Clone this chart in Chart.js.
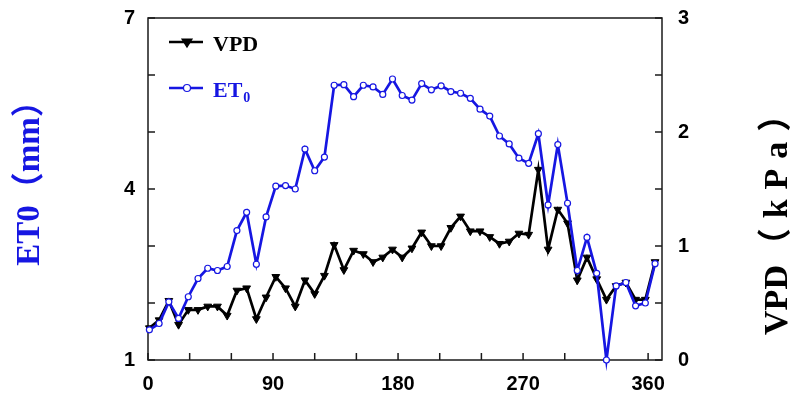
<!DOCTYPE html>
<html>
<head>
<meta charset="utf-8">
<script src="https://cdn.jsdelivr.net/npm/chart.js@4.4.0/dist/chart.umd.min.js"></script>
<style>
  body { margin: 0; background: #fff; }
</style>
</head>
<body>
<canvas id="chart" width="791" height="401"></canvas>
<script>
// day of year for each weekly value
const days = [1, 8, 15, 22, 29, 36, 43, 50, 57, 64, 71, 78, 85, 92, 99, 106, 113, 120,
  127, 134, 141, 148, 155, 162, 169, 176, 183, 190, 197, 204, 211, 218, 225, 232, 239,
  246, 253, 260, 267, 274, 281, 288, 295, 302, 309, 316, 323, 330, 337, 344, 351, 358, 365];

// ET0 (mm), left axis
const et0 = [1.53, 1.64, 2.02, 1.73, 2.11, 2.43, 2.61, 2.57, 2.64, 3.27, 3.59, 2.68, 3.51,
  4.05, 4.06, 4.00, 4.70, 4.32, 4.56, 5.82, 5.83, 5.62, 5.82, 5.79, 5.66, 5.93, 5.64, 5.56,
  5.85, 5.74, 5.81, 5.71, 5.68, 5.59, 5.40, 5.28, 4.93, 4.79, 4.54, 4.45, 4.97, 3.72, 4.78,
  3.75, 2.57, 3.15, 2.52, 1.00, 2.30, 2.36, 1.95, 2.00, 2.69];

// VPD (kPa), right axis
const vpd = [0.28, 0.35, 0.52, 0.31, 0.44, 0.44, 0.47, 0.47, 0.39, 0.61, 0.63, 0.36, 0.55,
  0.73, 0.63, 0.47, 0.70, 0.58, 0.74, 1.01, 0.79, 0.96, 0.93, 0.86, 0.90, 0.97, 0.90, 0.98,
  1.12, 1.00, 1.00, 1.16, 1.26, 1.13, 1.13, 1.08, 1.02, 1.04, 1.11, 1.10, 1.67, 0.97, 1.32,
  1.20, 0.70, 0.90, 0.71, 0.53, 0.65, 0.68, 0.53, 0.53, 0.86];

const xLabels = [0, 90, 180, 270, 360];
const leftLabels = [1, 4, 7];
const rightLabels = [0, 1, 2, 3];

const blue = 'rgb(22, 22, 226)';
const tickFont = { family: '"Liberation Sans", Arial, sans-serif', size: 20, weight: 'bold' };
const serif = '"Liberation Serif", "Times New Roman", "Noto Sans CJK SC", serif';

function toPoints(values) {
    return days.map((d, i) => ({ x: d, y: values[i] }));
}

function markerPath(ctx, style, x, y, r) {
    ctx.beginPath();
    if (style === 'circle') {
        ctx.arc(x, y, r, 0, Math.PI * 2);
    } else {
        // downward triangle
        ctx.moveTo(x - r, y - r * 0.6);
        ctx.lineTo(x + r, y - r * 0.6);
        ctx.lineTo(x, y + r);
        ctx.closePath();
    }
}

// text drawn char by char with extra spacing, centred on 0,0 (already rotated)
function spacedText(ctx, text, spacing) {
    const chars = Array.from(text);
    const widths = chars.map(c => ctx.measureText(c).width);
    const total = widths.reduce((s, w) => s + w, 0) + spacing * (chars.length - 1);
    let x = -total / 2;
    ctx.textAlign = 'left';
    chars.forEach((c, i) => {
        ctx.fillText(c, x, 0);
        x += widths[i] + spacing;
    });
}

// box round the plot and inward tick marks
const framePlugin = {
    id: 'frame',
    beforeDatasetsDraw(chart) {
        const { ctx, chartArea: a, scales } = chart;
        ctx.save();
        ctx.strokeStyle = '#1a1a1a';
        ctx.lineWidth = 1.5;
        ctx.strokeRect(a.left, a.top, a.right - a.left, a.bottom - a.top);
        ctx.beginPath();
        scales.x.ticks.forEach(t => {
            const px = scales.x.getPixelForValue(t.value);
            ctx.moveTo(px, a.bottom);
            ctx.lineTo(px, a.bottom - 7);
        });
        scales.y.ticks.forEach(t => {
            const py = scales.y.getPixelForValue(t.value);
            ctx.moveTo(a.left, py);
            ctx.lineTo(a.left + 7, py);
        });
        scales.y1.ticks.forEach(t => {
            const py = scales.y1.getPixelForValue(t.value);
            ctx.moveTo(a.right, py);
            ctx.lineTo(a.right - 7, py);
        });
        ctx.stroke();
        ctx.restore();
    }
};

// axis titles and the in-plot legend
const textPlugin = {
    id: 'texts',
    afterDraw(chart) {
        const { ctx, chartArea: a } = chart;
        ctx.save();
        ctx.textBaseline = 'middle';

        ctx.save();
        ctx.translate(30, 175);
        ctx.rotate(-Math.PI / 2);
        ctx.fillStyle = blue;
        ctx.font = 'bold 33px ' + serif;
        spacedText(ctx, 'ET0（mm）', 0);
        ctx.restore();

        ctx.save();
        ctx.translate(778, 0);
        ctx.rotate(-Math.PI / 2);
        ctx.fillStyle = '#000';
        ctx.font = 'bold 34px ' + serif;
        ctx.translate(-300, 0);
        spacedText(ctx, 'VPD', 0);
        ctx.translate(120, 0);
        spacedText(ctx, '（kPa）', 10);
        ctx.restore();

        // legend
        const items = [
            { label: 'VPD', color: '#000', style: 'triangle', fill: '#000', y: a.top + 24 },
            { label: 'ET', sub: '0', color: blue, style: 'circle', fill: '#fff', y: a.top + 70 }
        ];
        items.forEach(it => {
            const x0 = a.left + 21, x1 = a.left + 55;
            ctx.strokeStyle = it.color;
            ctx.lineWidth = 2.5;
            ctx.beginPath();
            ctx.moveTo(x0, it.y);
            ctx.lineTo(x1, it.y);
            ctx.stroke();
            ctx.lineWidth = 1.2;
            ctx.fillStyle = it.fill;
            markerPath(ctx, it.style, (x0 + x1) / 2 + 1, it.y, it.style === 'circle' ? 3.5 : 5);
            ctx.fill();
            ctx.stroke();

            ctx.fillStyle = it.color;
            ctx.textAlign = 'left';
            ctx.textBaseline = 'alphabetic';
            ctx.font = 'bold 22px ' + serif;
            ctx.fillText(it.label, a.left + 65, it.y + 9);
            if (it.sub) {
                const w = ctx.measureText(it.label).width;
                ctx.font = 'bold 14px ' + serif;
                ctx.fillText(it.sub, a.left + 65 + w + 1, it.y + 14);
            }
        });
        ctx.restore();
    }
};

new Chart(document.getElementById('chart'), {
    type: 'line',
    data: {
        datasets: [
            {
                label: 'ET0',
                data: toPoints(et0),
                yAxisID: 'y',
                borderColor: blue,
                borderWidth: 2.7,
                pointStyle: 'circle',
                pointRadius: 3,
                pointBorderWidth: 1.2,
                pointBorderColor: blue,
                pointBackgroundColor: '#fff',
                tension: 0,
                clip: false
            },
            {
                label: 'VPD',
                data: toPoints(vpd),
                yAxisID: 'y1',
                borderColor: '#000',
                borderWidth: 2.7,
                pointStyle: 'triangle',
                pointRotation: 180,
                pointRadius: 4.5,
                pointBorderWidth: 1,
                pointBorderColor: '#000',
                pointBackgroundColor: '#000',
                tension: 0,
                clip: false
            }
        ]
    },
    options: {
        responsive: false,
        animation: false,
        layout: { padding: { top: 18, left: 0, right: 0, bottom: 0 } },
        plugins: {
            legend: { display: false },
            tooltip: { enabled: false }
        },
        scales: {
            x: {
                type: 'linear',
                min: 0,
                max: 370,
                grid: { display: false, drawTicks: false },
                border: { display: false },
                ticks: {
                    stepSize: 30,
                    includeBounds: false,
                    autoSkip: false,
                    maxRotation: 0,
                    padding: 12,
                    color: '#000',
                    font: tickFont,
                    callback: v => xLabels.includes(v) ? String(v) : ''
                },
                afterFit: s => { s.height = 41; s.paddingLeft = 0; s.paddingRight = 0; }
            },
            y: {
                position: 'left',
                min: 1,
                max: 7,
                grid: { display: false, drawTicks: false },
                border: { display: false },
                ticks: {
                    stepSize: 1,
                    autoSkip: false,
                    padding: 13,
                    color: '#000',
                    font: tickFont,
                    callback: v => leftLabels.includes(v) ? String(v) : ''
                },
                afterFit: s => { s.width = 148; s.paddingTop = 0; s.paddingBottom = 0; }
            },
            y1: {
                position: 'right',
                min: 0,
                max: 3,
                grid: { display: false, drawTicks: false },
                border: { display: false },
                ticks: {
                    stepSize: 0.5,
                    autoSkip: false,
                    padding: 16,
                    color: '#000',
                    font: tickFont,
                    callback: v => rightLabels.includes(v) ? String(v) : ''
                },
                afterFit: s => { s.width = 129; s.paddingTop = 0; s.paddingBottom = 0; }
            }
        }
    },
    plugins: [framePlugin, textPlugin]
});
</script>
</body>
</html>
